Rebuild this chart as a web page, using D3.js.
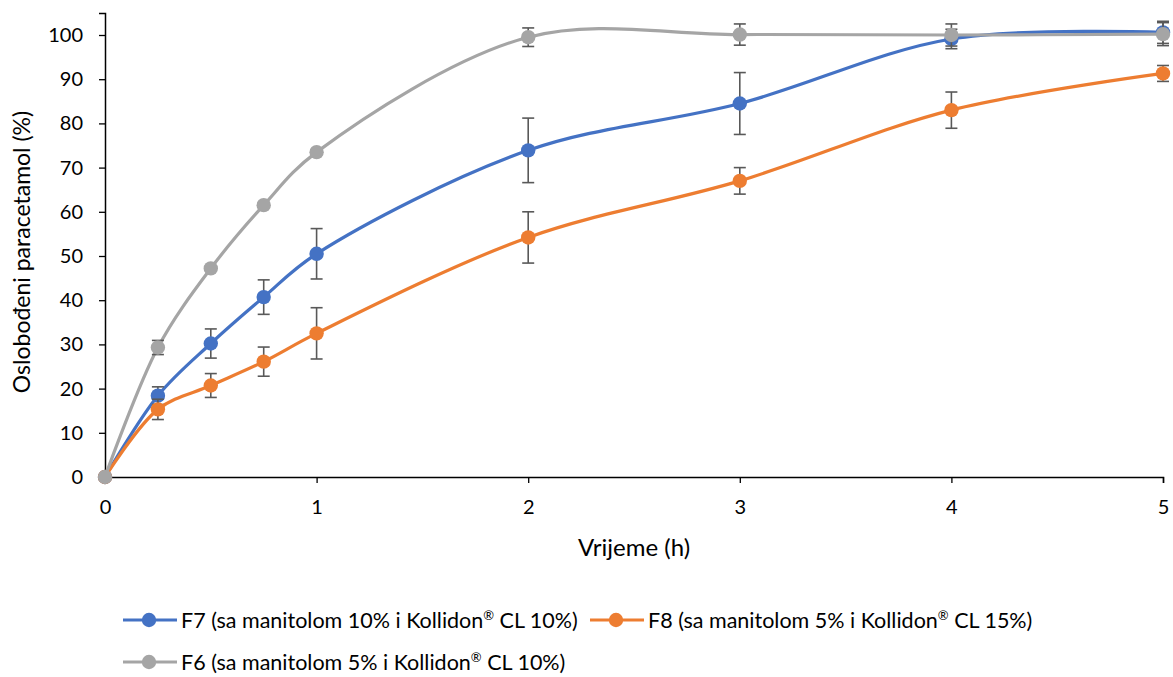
<!DOCTYPE html>
<html>
<head>
<meta charset="utf-8">
<script src="https://cdn.jsdelivr.net/npm/d3@7"></script>
<style>
  body { margin: 0; background: #fff; }
  text { font-family: Lato, "Open Sans", sans-serif; fill: #000; }
</style>
</head>
<body>
<svg id="chart" width="1173" height="677"></svg>
<script>
// time points (h)
var times = [0, 0.25, 0.5, 0.75, 1, 2, 3, 4, 5];
var seriesNames = [
  "F7 (sa manitolom 10% i Kollidon® CL 10%)",
  "F8 (sa manitolom 5% i Kollidon® CL 15%)",
  "F6 (sa manitolom 5% i Kollidon® CL 10%)"
];
var seriesColors = ["#4472C4", "#ED7D31", "#A5A5A5"];
// released paracetamol (%)
var f7Values = [0, 18.4, 30.2, 40.7, 50.5, 73.9, 84.5, 99.1, 100.6];
var f8Values = [0, 15.3, 20.7, 26.1, 32.5, 54.2, 67.0, 83.0, 91.3];
var f6Values = [0, 29.3, 47.2, 61.5, 73.5, 99.5, 100.1, 100.0, 100.2];
// standard deviations
var f7Errors = [0, 2.0, 3.3, 3.9, 5.7, 7.3, 7.0, 2.2, 2.5];
var f8Errors = [0, 2.3, 2.7, 3.3, 5.8, 5.8, 3.0, 4.1, 1.8];
var f6Errors = [0, 1.6, 0.5, 0.5, 0.5, 2.1, 2.4, 2.5, 2.6];
var xTicks = [0, 1, 2, 3, 4, 5];
var yTicks = [0, 10, 20, 30, 40, 50, 60, 70, 80, 90, 100];

var allValues = [f7Values, f8Values, f6Values];
var allErrors = [f7Errors, f8Errors, f6Errors];

var svg = d3.select("#chart");
var x = d3.scaleLinear().domain([0, 5]).range([105, 1163]);
var y = d3.scaleLinear().domain([0, 105]).range([477, 12.9]);

// axes
var xAxis = svg.append("g")
    .attr("transform", "translate(0," + y(0) + ")")
    .call(d3.axisBottom(x).tickValues(xTicks).tickSize(6).tickPadding(17).tickFormat(d3.format("d")));
var yAxis = svg.append("g")
    .attr("transform", "translate(" + x(0) + ",0)")
    .call(d3.axisLeft(y).tickValues(yTicks).tickSize(6).tickPadding(16).tickFormat(d3.format("d")));
[xAxis, yAxis].forEach(function(a) {
  a.select(".domain").attr("stroke", "#000").attr("stroke-width", 1.5);
  a.selectAll(".tick line").attr("stroke", "#000").attr("stroke-width", 1.3);
  a.selectAll(".tick text").style("font-size", "20px").attr("fill", "#000");
});

// axis titles
svg.append("text")
    .attr("x", 634).attr("y", 556)
    .attr("text-anchor", "middle")
    .style("font-size", "24px")
    .text("Vrijeme (h)");
svg.append("text")
    .attr("transform", "translate(30,252) rotate(-90)")
    .attr("text-anchor", "middle")
    .style("font-size", "23px")
    .text("Oslobođeni paracetamol (%)");

// series
var line = d3.line()
    .x(function(d) { return x(d[0]); })
    .y(function(d) { return y(d[1]); })
    .curve(d3.curveCatmullRom.alpha(0.5));

allValues.forEach(function(vals, si) {
  var pts = times.map(function(t, i) { return [t, vals[i], allErrors[si][i]]; });
  var g = svg.append("g");
  g.append("path")
      .datum(pts)
      .attr("d", line)
      .attr("fill", "none")
      .attr("stroke", seriesColors[si])
      .attr("stroke-width", 3.2);
  // error bars (under the markers)
  var eb = g.selectAll("g.err")
      .data(pts.filter(function(d) { return d[2] > 0; }))
      .enter().append("g")
      .attr("stroke", "#595959")
      .attr("stroke-width", 1.6);
  eb.append("line")
      .attr("x1", function(d) { return x(d[0]); })
      .attr("x2", function(d) { return x(d[0]); })
      .attr("y1", function(d) { return y(d[1] - d[2]); })
      .attr("y2", function(d) { return y(d[1] + d[2]); });
  eb.append("line")
      .attr("x1", function(d) { return x(d[0]) - 6; })
      .attr("x2", function(d) { return x(d[0]) + 6; })
      .attr("y1", function(d) { return y(d[1] + d[2]); })
      .attr("y2", function(d) { return y(d[1] + d[2]); });
  eb.append("line")
      .attr("x1", function(d) { return x(d[0]) - 6; })
      .attr("x2", function(d) { return x(d[0]) + 6; })
      .attr("y1", function(d) { return y(d[1] - d[2]); })
      .attr("y2", function(d) { return y(d[1] - d[2]); });
  g.selectAll("circle")
      .data(pts)
      .enter().append("circle")
      .attr("cx", function(d) { return x(d[0]); })
      .attr("cy", function(d) { return y(d[1]); })
      .attr("r", 7.2)
      .attr("fill", seriesColors[si]);
});

// legend (® drawn as superscript like in the original)
var legendPos = [[123, 620], [590, 620], [123, 662]];
seriesNames.forEach(function(name, i) {
  var lg = svg.append("g").attr("transform", "translate(" + legendPos[i][0] + "," + legendPos[i][1] + ")");
  lg.append("line").attr("x1", 0).attr("x2", 54).attr("y1", 0).attr("y2", 0)
      .attr("stroke", seriesColors[i]).attr("stroke-width", 3.2);
  lg.append("circle").attr("cx", 26).attr("cy", 0).attr("r", 7.2).attr("fill", seriesColors[i]);
  var parts = name.split("®");
  var t = lg.append("text").attr("x", 58).attr("y", 7.5)
      .style("font-size", "21.5px");
  t.append("tspan").text(parts[0]);
  t.append("tspan").attr("dy", -8).style("font-size", "13px").text("®");
  t.append("tspan").attr("dy", 8).text(parts[1]);
});
</script>
</body>
</html>
